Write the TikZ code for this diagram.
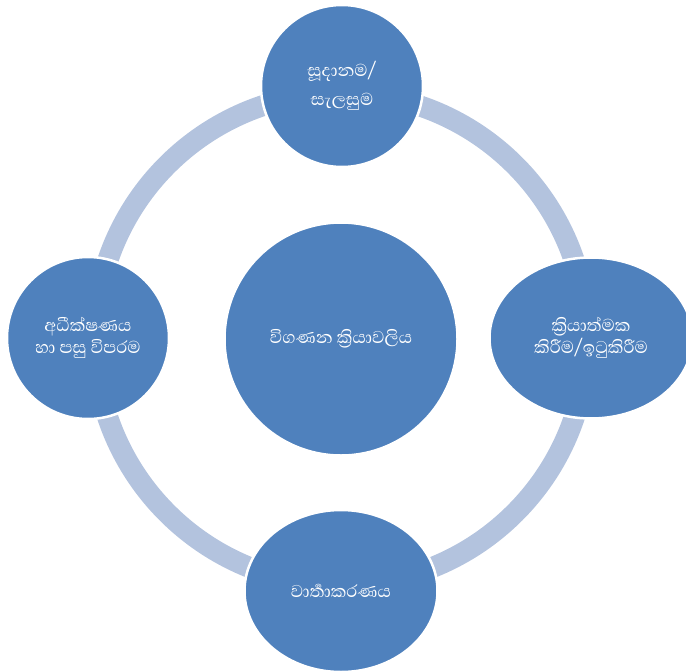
\documentclass[tikz,border=0pt]{standalone}
\usepackage{fontspec}
\newfontfamily\sinhala[Script=Sinhala]{Abhaya Libre}
\usepackage{tikz}
\usetikzlibrary{shapes.geometric}
\definecolor{azul}{RGB}{79, 129, 189}
\definecolor{anillo}{RGB}{179, 195, 222}
\tikzset{
    fase/.style={draw=white, ellipse, fill=azul, text=white, line width=2.5pt, inner sep=0pt, align=center, font=\sinhala\fontsize{22}{22}\selectfont},
    faseC/.style={fase, minimum width=162pt, minimum height=162pt},
    centro/.style={fase, minimum width=233pt, minimum height=233pt},
    ring/.style={draw=anillo, line width=21pt},
}

\begin{document}
\begin{tikzpicture}[x=1pt, y=-1pt]
        \useasboundingbox (0,0) rectangle (686,672);

        \node[centro] (proc) at (341,339) {විගණන ක්^^^^200dරියාවලිය};

        \draw[ring] (proc.center) circle[radius=246pt];

        \node[faseC] (plan) at (342,86) {සූදානම/\\[7pt]සැලසුම};
        \node[fase, minimum width=203pt, minimum height=161pt] (exec) at (591,338) {ක්^^^^200dරියාත්මක\\කිරීම/ඉටුකිරීම};
        \node[fase, minimum width=193pt, minimum height=162pt] (rep) at (341,591) {වාර්^^^^200dතාකරණය};
        \node[faseC] (mon) at (88,338) {අධීක්ෂණය\\හා පසු විපරම};
    \end{tikzpicture}
\end{document}
